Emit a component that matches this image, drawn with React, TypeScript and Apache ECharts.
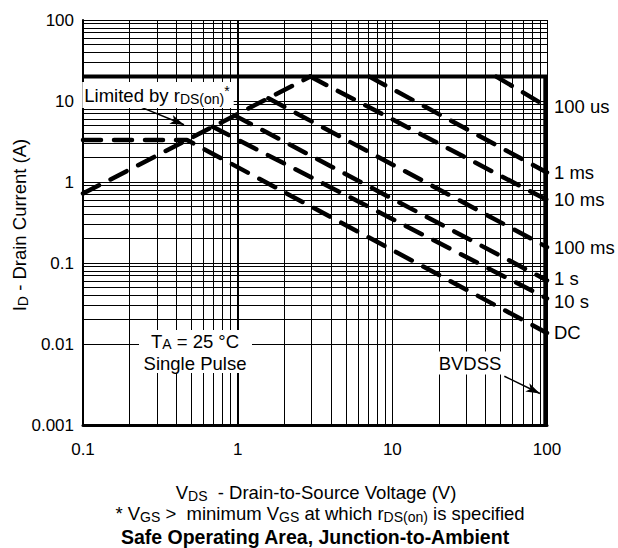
import React, { useEffect, useRef } from "react";
import * as echarts from "echarts";

const FONT = "'Liberation Sans', Arial, Helvetica, sans-serif";

// axis ticks
const xTicks = [0.1, 1, 10, 100];
const yTicks = [0.001, 0.01, 0.1, 1, 10, 100];
const minorSteps = [2, 3, 4, 5, 6, 7, 8, 9];

// curves (V, A)
const currentLimit = [[0.1, 20], [100, 20]];
const rdsOnLimit = [[0.1, 0.72], [2.95, 20]];
const us100 = [[47, 20], [100, 8.5]];
const ms1 = [[7.1, 20], [100, 1.31]];
const ms10 = [[2.95, 20], [100, 0.6]];
const ms100 = [[1.58, 10.8], [100, 0.157]];
const s1 = [[0.96, 6.6], [100, 0.061]];
const s10 = [[0.69, 4.8], [100, 0.0365]];
const dc = [[0.1, 3.3], [0.47, 3.3], [100, 0.0137]];
const bvdss = [[97.5, 0.001], [97.5, 20]];

// annotation arrows
const limitedArrow = [[0.22, 8.9], [0.45, 5.1]];
const bvdssArrow = [[53, 0.004], [90, 0.00245]];

const pulseCurves: [string, number[][], number][] = [
  ["100 us", us100, 0],
  ["1 ms", ms1, 0],
  ["10 ms", ms10, 0],
  ["100 ms", ms100, 0],
  ["1 s", s1, -2],
  ["10 s", s10, 3],
  ["DC", dc, 0],
];

const FS = 18.5;
const rich = {
  n: { fontSize: FS, fontFamily: FONT, fill: "#000" },
  s: { fontSize: 14, fontFamily: FONT, fill: "#000", padding: [8, 0, 0, 0] },
  p: { fontSize: 14, fontFamily: FONT, fill: "#000", padding: [0, 0, 8, 0] },
};
const richNote = {
  n: { fontSize: FS, fontFamily: FONT, fill: "#000" },
  s: { fontSize: 14, fontFamily: FONT, fill: "#000", padding: [6, 0, 0, 0] },
};

const dashStyle = { color: "#000", width: 4.5, type: [18, 13], cap: "round" };

export default function App() {
  const ref = useRef<HTMLDivElement>(null);
  useEffect(() => {
    document.body.style.margin = "0";
    if (!ref.current) return;
    const chart = echarts.init(ref.current, undefined, { renderer: "svg" });

    const xMinor: number[] = [];
    xTicks.slice(0, -1).forEach((d) => minorSteps.forEach((m) => xMinor.push(+(d * m).toPrecision(6))));
    const yMinor: number[] = [];
    yTicks.slice(0, -1).forEach((d) => minorSteps.forEach((m) => yMinor.push(+(d * m).toPrecision(6))));

    const arrowStyle = { width: 1.5, color: "#000", type: "solid" };
    const gridLines: any[] = [
      ...xMinor.map((v) => ({ xAxis: v })),
      ...yMinor.map((v) => ({ yAxis: v })),
      { xAxis: 1, lineStyle: { width: 2, color: "#000", type: "solid" } },
      [
        { coord: limitedArrow[0], symbol: "none", lineStyle: arrowStyle },
        { coord: limitedArrow[1], symbol: "arrow", symbolSize: [7, 14] },
      ],
      [
        { coord: bvdssArrow[0], symbol: "none", lineStyle: arrowStyle },
        { coord: bvdssArrow[1], symbol: "arrow", symbolSize: [7, 14] },
      ],
    ];

    const series: any[] = [
      {
        type: "line",
        name: "limit",
        data: currentLimit,
        symbol: "none",
        silent: true,
        lineStyle: { color: "#000", width: 4, type: "solid" },
        markLine: {
          silent: true,
          symbol: ["none", "none"],
          label: { show: false },
          lineStyle: { color: "#000", width: 1, type: "solid" },
          data: gridLines,
          animation: false,
        },
        z: 3,
      },
      {
        type: "line",
        name: "rds",
        data: rdsOnLimit,
        symbol: "none",
        silent: true,
        lineStyle: dashStyle,
        z: 5,
      },
      ...pulseCurves.map(([name, data, dy]) => ({
        type: "line",
        name,
        data,
        symbol: "none",
        silent: true,
        lineStyle: dashStyle,
        z: 5,
        endLabel: {
          show: true,
          formatter: () => name,
          color: "#000",
          fontSize: FS,
          fontFamily: FONT,
          distance: 7,
          offset: [0, dy],
        },
      })),
      {
        type: "line",
        name: "BVDSS",
        data: bvdss,
        symbol: "none",
        silent: true,
        lineStyle: { color: "#000", width: 4, type: "solid" },
        z: 4,
      },
    ];

    const center = { align: "center", verticalAlign: "middle", textAlign: "center", textVerticalAlign: "middle" };

    const option: any = {
      animation: false,
      backgroundColor: "#fff",
      grid: { left: 83, right: 71, top: 20, bottom: 123, show: false },
      xAxis: {
        type: "log",
        logBase: 10,
        min: xTicks[0],
        max: xTicks[xTicks.length - 1],
        axisLine: { show: true, onZero: false, lineStyle: { color: "#000", width: 3 } },
        axisTick: { show: false },
        axisLabel: { color: "#000", fontSize: 17, fontFamily: FONT, margin: 16 },
        splitLine: { show: true, lineStyle: { color: "#000", width: 1 } },
      },
      yAxis: {
        type: "log",
        logBase: 10,
        min: yTicks[0],
        max: yTicks[yTicks.length - 1],
        axisLine: { show: true, onZero: false, lineStyle: { color: "#000", width: 2 } },
        axisTick: { show: false },
        axisLabel: { color: "#000", fontSize: 17, fontFamily: FONT, margin: 9 },
        splitLine: { show: true, lineStyle: { color: "#000", width: 1 } },
      },
      series,
      graphic: [
        {
          type: "text",
          z: 100,
          x: 158,
          y: 95,
          style: {
            text: "{n|Limited by r}{s|DS(on)}{p|*}",
            rich,
            ...center,
            backgroundColor: "#fff",
            padding: [2, 4, 2, 2],
          },
        },
        {
          type: "rect",
          z: 99,
          shape: { x: 139, y: 330, width: 113, height: 43 },
          style: { fill: "#fff" },
        },
        {
          type: "text",
          z: 100,
          x: 195,
          y: 341,
          style: {
            text: "{n|T}{s|A}{n| = 25 °C}",
            rich: richNote,
            ...center,
          },
        },
        {
          type: "text",
          z: 100,
          x: 195,
          y: 363.5,
          style: {
            text: "Single Pulse",
            fontSize: FS,
            fontFamily: FONT,
            fill: "#000",
            ...center,
          },
        },
        {
          type: "text",
          z: 100,
          x: 470,
          y: 363,
          style: {
            text: "BVDSS",
            fontSize: FS,
            fontFamily: FONT,
            fill: "#000",
            ...center,
            backgroundColor: "#fff",
            padding: [2, 6, 2, 6],
          },
        },
        {
          type: "text",
          z: 100,
          x: 19,
          y: 225,
          rotation: Math.PI / 2,
          style: {
            text: "{n|I}{s|D}{n| - Drain Current (A)}",
            rich,
            ...center,
          },
        },
        {
          type: "text",
          z: 100,
          x: 316,
          y: 492,
          style: {
            text: "{n|V}{s|DS}{n|  - Drain-to-Source Voltage (V)}",
            rich,
            ...center,
          },
        },
        {
          type: "text",
          z: 100,
          x: 320,
          y: 513.5,
          style: {
            text: "{n|* V}{s|GS}{n| >  minimum V}{s|GS}{n| at which r}{s|DS(on)}{n| is specified}",
            rich: richNote,
            ...center,
          },
        },
        {
          type: "text",
          z: 100,
          x: 315,
          y: 536.5,
          style: {
            text: "Safe Operating Area, Junction-to-Ambient",
            fontSize: 19.5,
            fontWeight: "bold",
            fontFamily: FONT,
            fill: "#000",
            ...center,
          },
        },
      ],
    };
    chart.setOption(option);
    return () => chart.dispose();
  }, []);
  return <div ref={ref} style={{ width: 618, height: 548 }} />;
}
